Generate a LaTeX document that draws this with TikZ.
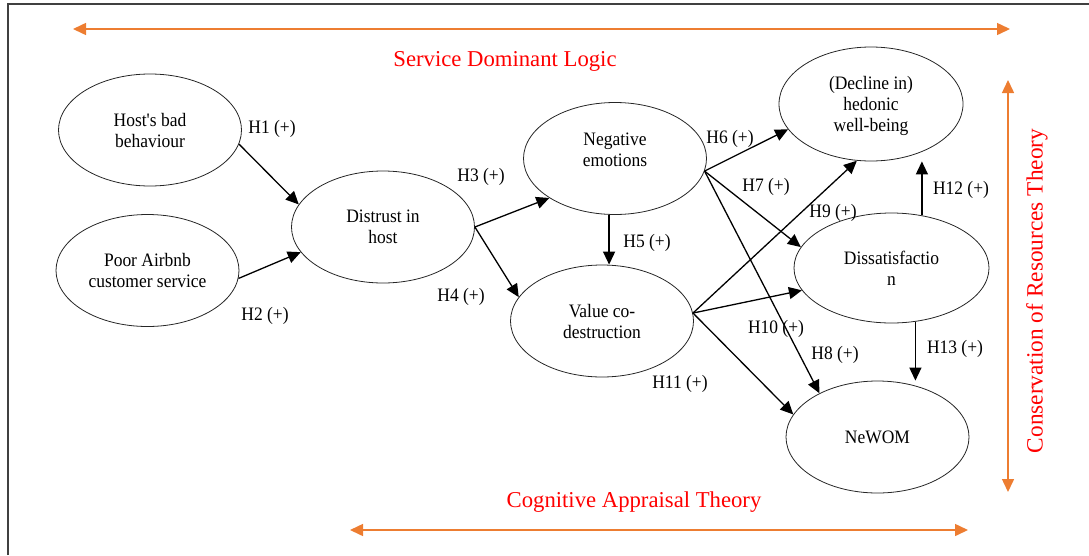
\documentclass[tikz,border=0pt]{standalone}
\usepackage{fontspec}
\setmainfont{Liberation Serif}
\newfontfamily\tallserif{Liberation Serif}[FakeStretch=0.92]
\usetikzlibrary{shapes.geometric,arrows.meta}

\begin{document}
\begin{tikzpicture}[x=1pt,y=-1pt,>={Triangle[length=13pt,width=12pt]}]

	\def\rx{91.5}
	\def\ry{56}
	\def\fs{\tallserif\fontsize{19}{21}\selectfont}

	% Colours
	\colorlet{theorycolor}{red}
	\definecolor{spancolor}{RGB}{237,125,49}
	\colorlet{framecolor}{black!75}

	% Styles
	\tikzstyle{construct}=[ellipse, draw=black!85, line width=0.8pt, inner sep=0pt,
		minimum width=2*\rx, minimum height=2*\ry, align=center, font=\fs]
	\tikzstyle{hyp}=[inner sep=0pt, font=\fs]
	\tikzstyle{link}=[->, line width=1.3pt]
	\tikzstyle{theory}=[theorycolor, inner sep=0pt, font=\fontsize{22.7}{27}\selectfont]
	\tikzstyle{span}=[<->, spancolor, line width=1.5pt]

	\useasboundingbox (0,0) rectangle (1089,555);

	% Frame
	\draw[framecolor, line width=1.6pt] (8,555) -- (8,4) -- (1089,4);

	% Constructs
	\node[construct] (host) at (150,130) {Host's bad\\behaviour};
	\node[construct] (poor) at (147.5,270.5) {Poor Airbnb\\customer service};
	\node[construct] (distrust) at (383,227) {Distrust in\\host};
	\node[construct, text depth=17pt] (neg) at (615,158.5) {Negative\\emotions};
	\node[construct] (value) at (602,321) {Value co-\\destruction};
	\node[construct, minimum width=184, minimum height=114, text depth=-4pt] (hedonic)
		at (871,104) {(Decline in)\\hedonic\\well-being};
	\node[construct, minimum width=195, minimum height=110, text depth=-5pt] (dissat)
		at (891.5,268) {Dissatisfactio\\n};
	\node[construct] (newom) at (877.5,437) {NeWOM};

	% Hypotheses
	\draw[link] (host.-9) -- (distrust.165);
	\draw[link] (poor.-5) -- (distrust.197);
	\draw[link] (distrust.east) -- (neg.211);
	\draw[link] (distrust.east) -- (value.164);
	\draw[link] (neg.264) -- (neg.264 |- value.north);
	\draw[link] (neg.-8) -- (hedonic.197);
	\draw[link] (neg.-8) -- (dissat.167);
	\draw[link] (neg.-8) -- (newom.143);
	\draw[link] (value.5) -- (hedonic.256);
	\draw[link] (value.5) -- (dissat.194);
	\draw[link] (value.5) -- (newom.165);
	\draw[link] (dissat.60) -- (dissat.60 |- hedonic.south);
	\draw[link] (dissat.-66) -- (dissat.-66 |- newom.north);

	\node[hyp] (h1) at (272,129) {H1 (+)};
	\node[hyp] (h2) at (265,316) {H2 (+)};
	\node[hyp] (h3) at (481,177) {H3 (+)};
	\node[hyp] (h4) at (461,297) {H4 (+)};
	\node[hyp] (h5) at (647,243) {H5 (+)};
	\node[hyp] (h6) at (730,139) {H6 (+)};
	\node[hyp] (h7) at (766,187) {H7 (+)};
	\node[hyp] (h8) at (835,355) {H8 (+)};
	\node[hyp] (h9) at (833,213) {H9 (+)};
	\node[hyp] (h10) at (776,329) {H10 (+)};
	\node[hyp] (h11) at (680,384) {H11 (+)};
	\node[hyp] (h12) at (961,190) {H12 (+)};
	\node[hyp] (h13) at (955,349) {H13 (+)};

	% Theories
	\coordinate (sdlL) at (73,29);
	\coordinate (sdlR) at (1010,29);
	\draw[span] (sdlL) -- (sdlR);
	\node[theory] (sdl) at (505,61) {Service Dominant Logic};

	\coordinate (corT) at (1008,80);
	\coordinate (corB) at (1008,492);
	\draw[span] (corT) -- (corB);
	\node[theory, rotate=90, font=\fontsize{23.3}{27}\selectfont] (cor) at (1037,291)
		{Conservation of Resources Theory};

	\coordinate (catL) at (350,530);
	\coordinate (catR) at (968,530);
	\draw[span] (catL) -- (catR);
	\node[theory] (cat) at (634,502) {Cognitive Appraisal Theory};

\end{tikzpicture}
\end{document}
